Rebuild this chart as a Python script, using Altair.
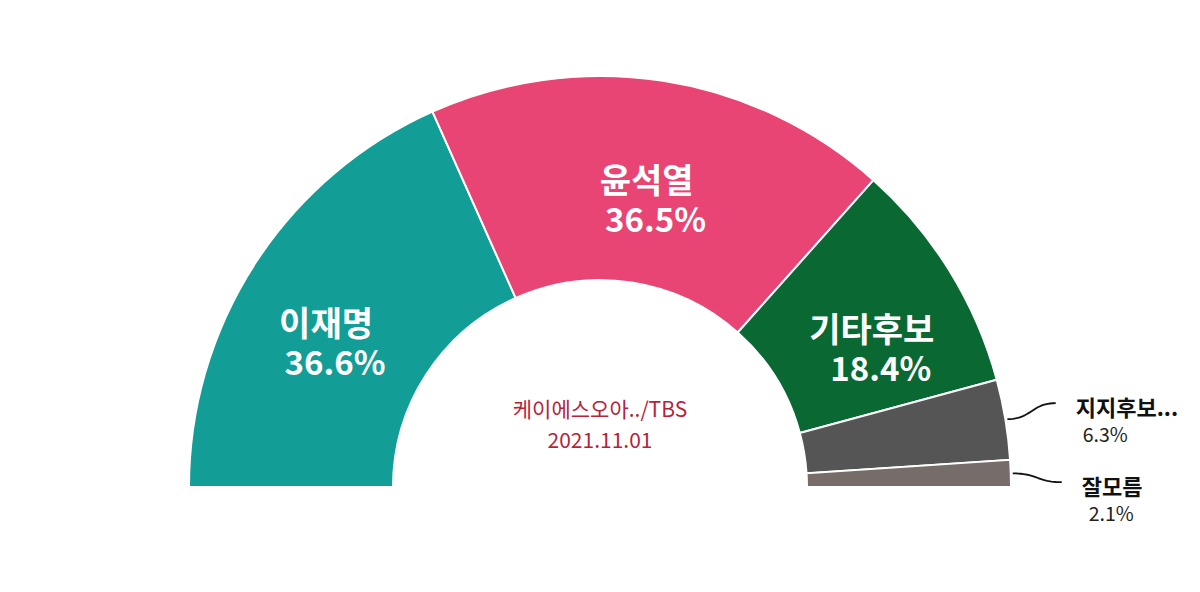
import math
import altair as alt
import pandas as pd

# ---- data ----
names = ["이재명", "윤석열", "기타후보", "지지후보...", "잘모름"]
values = [36.6, 36.5, 18.4, 6.3, 2.1]
colors = ["#129e97", "#e84575", "#0a6932", "#555555", "#766c6a"]
source_lines = ["케이에스오아../TBS", "2021.11.01"]

# ---- layout constants ----
W, H = 1184, 576
CX, CY = 592, 479
R_OUT, R_IN = 411, 207
FONT = "Noto Sans CJK KR"

df = pd.DataFrame({
    "name": names,
    "value": values,
    "idx": list(range(len(names))),
})
df["inner_name"] = [n if v >= 10 else "" for n, v in zip(names, values)]
df["inner_pct"] = [f"{v}%" if v >= 10 else "" for v in values]

# leader lines + outside labels, derived from the data
total = sum(values)
cum = 0.0
line_rows, lab_rows = [], []
prev_y = None
for n, v in zip(names, values):
    mid = (cum + v / 2) / total
    cum += v
    if v >= 10:
        continue
    a = mid * math.pi
    x0 = CX - math.cos(a) * (R_OUT + 2)
    y0 = CY - math.sin(a) * (R_OUT + 2)
    x1 = CX - math.cos(a) * 462
    y1 = CY - math.sin(a) * 510
    if prev_y is not None:
        y1 = max(y1, prev_y + 79)
    prev_y = y1
    xm = (x0 + x1) / 2
    for i in range(25):
        t = i / 24
        bx = (1 - t) ** 3 * x0 + 3 * (1 - t) ** 2 * t * xm + 3 * (1 - t) * t ** 2 * xm + t ** 3 * x1
        by = (1 - t) ** 3 * y0 + 3 * (1 - t) ** 2 * t * y0 + 3 * (1 - t) * t ** 2 * y1 + t ** 3 * y1
        line_rows.append({"name": n, "step": i, "px": bx, "py": by})
    lab_rows.append({"name": n, "pct": f"{v}%", "nx": x1 + 20, "ny": y1 + 6,
                     "qx": x1 + 27, "qy": y1 + 33})

lines_df = pd.DataFrame(line_rows)
labs_df = pd.DataFrame(lab_rows)
src_df = pd.DataFrame({"t": source_lines, "k": list(range(len(source_lines)))})

theta_scale = alt.Scale(range=[1.5 * math.pi, 2.5 * math.pi])
xs = alt.Scale(domain=[0, W], nice=False, zero=False)
ys = alt.Scale(domain=[0, H], reverse=True, nice=False, zero=False)

base = alt.Chart(df).encode(
    theta=alt.Theta("value:Q", stack=True, scale=theta_scale),
    order=alt.Order("idx:Q"),
    x=alt.value(CX),
    y=alt.value(CY),
)

arcs = base.mark_arc(outerRadius=R_OUT, innerRadius=R_IN, stroke="white", strokeWidth=2).encode(
    color=alt.Color("name:N", scale=alt.Scale(domain=names, range=colors), legend=None)
)

inner_name = base.mark_text(radius=323, dy=15, dx=-3, fontSize=34, fontWeight="bold",
                            color="white", font=FONT, baseline="middle").encode(text="inner_name:N")
inner_pct = base.mark_text(radius=323, dy=54, dx=6, fontSize=33, fontWeight="bold",
                           color="white", font=FONT, baseline="middle").encode(text="inner_pct:N")

leaders = alt.Chart(lines_df).mark_line(color="#111111", strokeWidth=1.8).encode(
    x=alt.X("px:Q", scale=xs, axis=None),
    y=alt.Y("py:Q", scale=ys, axis=None),
    detail="name:N",
    order="step:Q",
)

out_name = alt.Chart(labs_df).mark_text(fontSize=22, fontWeight="bold", color="#111111",
                                        font=FONT, align="left", baseline="middle").encode(
    x=alt.X("nx:Q", scale=xs, axis=None),
    y=alt.Y("ny:Q", scale=ys, axis=None),
    text="name:N",
)
out_pct = alt.Chart(labs_df).mark_text(fontSize=19.5, color="#222222",
                                       font=FONT, align="left", baseline="middle").encode(
    x=alt.X("qx:Q", scale=xs, axis=None),
    y=alt.Y("qy:Q", scale=ys, axis=None),
    text="pct:N",
)

src_layers = []
for k, yy in zip(range(len(source_lines)), [CY - 76, CY - 45]):
    src_layers.append(
        alt.Chart(src_df).transform_filter(alt.datum.k == k).mark_text(
            fontSize=21, color="#b5233a", font=FONT, baseline="middle"
        ).encode(x=alt.value(CX), y=alt.value(yy), text="t:N")
    )

chart = alt.layer(arcs, inner_name, inner_pct, leaders, out_name, out_pct, *src_layers).properties(
    width=W, height=H, padding=0, background="white"
).configure_view(stroke=None)

chart.save("out.html", embed_options={"renderer": "svg", "actions": False})
